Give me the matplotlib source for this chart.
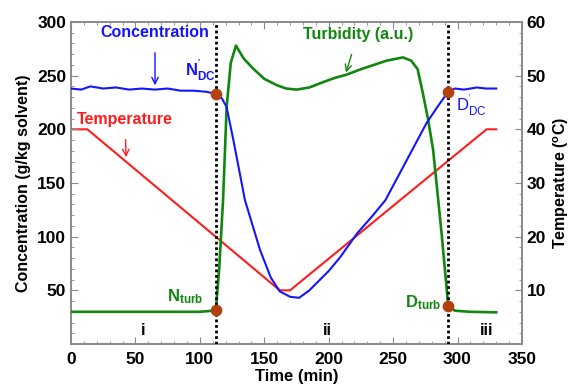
import matplotlib
matplotlib.use("Agg")
import matplotlib.pyplot as plt
from matplotlib.ticker import MultipleLocator, FixedLocator

plt.rcParams["font.family"] = ["Liberation Sans", "DejaVu Sans"]
plt.rcParams["mathtext.fontset"] = "custom"
plt.rcParams["mathtext.rm"] = "Liberation Sans"
plt.rcParams["mathtext.bf"] = "Liberation Sans:bold"
plt.rcParams["mathtext.it"] = "Liberation Sans:italic"

# ---- data (time in min, concentration / turbidity on the left scale) ----
conc_t = [0, 8, 15, 25, 35, 45, 55, 65, 75, 85, 95, 105, 112.7, 117, 120.7, 126,
          135, 146.6, 155, 162, 170, 177, 185, 190, 200, 209, 222, 233, 244,
          260, 276, 285, 292.7, 298, 305, 315, 322, 330]
conc_v = [238, 237, 240, 238, 239, 237, 238, 237, 238, 236, 236, 235, 233, 229, 221, 190,
          134, 88, 62, 49, 44, 43, 50, 56, 68, 81, 103, 118, 134,
          170, 206, 222, 235, 238, 237, 239, 238, 238]

turb_t = [0, 50, 100, 110, 112.7, 115, 118, 120.8, 124, 128, 134, 141, 150, 160,
          167, 175, 185, 195.7, 205, 214, 225, 235, 245, 257.6, 264, 269, 273,
          277, 281, 285, 287.6, 291.5, 292.7, 298, 310, 330]
turb_v = [30, 30, 30, 31, 36, 70, 134, 221, 262, 278, 266, 257, 247, 241,
          238, 237, 239, 244, 248, 251, 256, 260, 264, 267, 264, 256, 234,
          210, 181, 134, 103, 52, 35, 31, 30, 29.5]

temp_t = [0, 12.7, 162, 170, 322.5, 330]
temp_c = [40, 40, 10, 10, 40, 40]

event_t = [112.7, 292.7]           # nucleation / dissolution times
dot_conc = [233, 235]
dot_turb = [32, 35]

xticks = [0, 50, 100, 150, 200, 250, 300, 350]
left_ticks = [50, 100, 150, 200, 250, 300]
right_ticks = [10, 20, 30, 40, 50, 60]

blue = "#1414ff"
red = "#ff1c1c"
green = "#10870f"
dot_c = "#b5400f"
spine_c = "#8a8a8a"

fig = plt.figure(figsize=(5.74, 3.85), dpi=100)
ax = fig.add_axes([0.1237, 0.1065, 0.7857, 0.8364])
ax2 = ax.twinx()

ax.plot(turb_t, turb_v, color=green, lw=1.9, zorder=3)
ax.plot(conc_t, conc_v, color=blue, lw=1.5, zorder=4)
ax2.plot(temp_t, temp_c, color=red, lw=1.5)

for t in event_t:
    ax.axvline(t, color="black", ls=(0, (1, 1)), lw=2, zorder=5)

ax.scatter(event_t, dot_conc, s=55, color=dot_c, zorder=6)
ax.scatter(event_t, dot_turb, s=55, color=dot_c, zorder=6)

ax.set_xlim(0, 350)
ax.set_ylim(0, 300)
ax2.set_ylim(0, 60)
ax2.set_zorder(ax.get_zorder() - 1)
ax.patch.set_visible(False)

ax.xaxis.set_major_locator(FixedLocator(xticks))
ax.yaxis.set_major_locator(FixedLocator(left_ticks))
ax2.yaxis.set_major_locator(FixedLocator(right_ticks))
ax.xaxis.set_minor_locator(MultipleLocator(10))
ax.yaxis.set_minor_locator(MultipleLocator(10))
ax2.yaxis.set_minor_locator(MultipleLocator(2))

for a in (ax, ax2):
    for s in a.spines.values():
        s.set_color(spine_c)
        s.set_linewidth(1.2)
    a.tick_params(which="both", direction="in", color=spine_c, labelsize=12.5)
    a.tick_params(which="major", length=5)
    a.tick_params(which="minor", length=2.5)
    for lab in a.get_xticklabels() + a.get_yticklabels():
        lab.set_fontweight("bold")
ax.tick_params(which="both", top=True, right=False)
ax.tick_params(axis="x", pad=6)

ax.set_xlabel("Time (min)", fontsize=12, fontweight="bold", labelpad=1)
ax.set_ylabel("Concentration (g/kg solvent)", fontsize=11.5, fontweight="bold", labelpad=4)
ax2.set_ylabel(r"Temperature ($\mathbf{^{o}}$C)", fontsize=11.5, fontweight="bold", labelpad=4)

# curve labels with pointer arrows
ax.annotate("Concentration", xy=(65.2, 241), xytext=(65.2, 290), color=blue,
            fontsize=11.5, fontweight="bold", ha="center", va="center",
            arrowprops=dict(arrowstyle="->", color=blue, lw=1, shrinkA=7, shrinkB=0))
ax.annotate("Temperature", xy=(42.7, 174), xytext=(41.9, 209), color=red,
            fontsize=11.5, fontweight="bold", ha="center", va="center",
            arrowprops=dict(arrowstyle="->", color=red, lw=1, shrinkA=7, shrinkB=0))
ax.annotate("Turbidity (a.u.)", xy=(213.4, 253), xytext=(222.5, 288), color=green,
            fontsize=11.5, fontweight="bold", ha="center", va="center",
            arrowprops=dict(arrowstyle="->", color=green, lw=1, shrinkA=7, shrinkB=0))

ax.text(88.5, 249, r"$\mathbf{N^{'}_{DC}}$", color=blue, fontsize=12)
ax.text(298.5, 217, r"$\mathrm{D^{'}_{DC}}$", color=blue, fontsize=12)
ax.text(74.5, 40, r"$\mathbf{N_{turb}}$", color=green, fontsize=12)
ax.text(259, 34, r"$\mathbf{D_{turb}}$", color=green, fontsize=12)

for t, s in zip([55.6, 199, 322.6], ["i", "ii", "iii"]):
    ax.text(t, 13, s, fontsize=11.5, fontweight="bold", ha="center", va="center")

fig.savefig("out.png", dpi=100)
